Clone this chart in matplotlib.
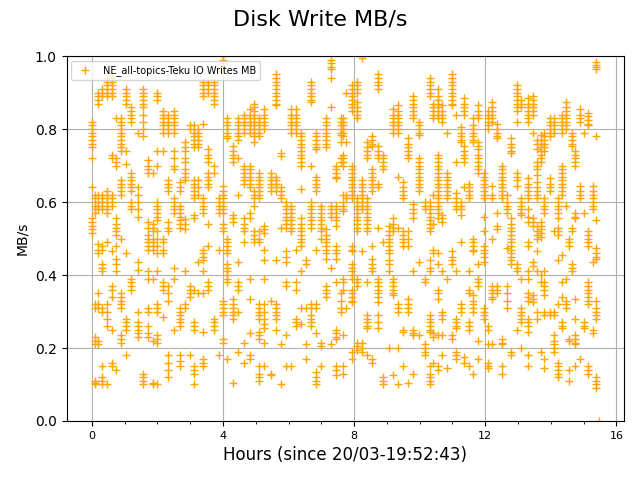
import numpy as np
import matplotlib
matplotlib.use("Agg")
import matplotlib.pyplot as plt
from matplotlib.ticker import MultipleLocator

title = "Disk Write MB/s"
series_label = "NE_all-topics-Teku IO Writes MB"
x_label = "Hours (since 20/03-19:52:43)"
y_label = "MB/s"

# sample times (hours) and the MB/s values read at each time
col_hours = [
    0.00, 0.08, 0.18, 0.30, 0.45, 0.60, 0.75, 0.90, 1.05, 1.20, 1.40, 1.55, 1.70, 1.85,
    2.00, 2.17, 2.33, 2.50, 2.68, 2.85, 2.98, 3.10, 3.25, 3.40, 3.55, 3.72, 3.87, 4.00,
    4.12, 4.30, 4.45, 4.65,
    4.81, 4.96, 5.11, 5.26, 5.45, 5.62, 5.77, 5.92, 6.08, 6.23, 6.39, 6.54, 6.69, 6.84,
    7.00, 7.15, 7.30, 7.45, 7.60,
    7.65, 7.75, 7.95, 8.10, 8.25, 8.40, 8.55, 8.72, 8.88, 9.05, 9.20, 9.35, 9.50, 9.65,
    9.80, 9.97, 10.15, 10.30, 10.42,
    10.55, 10.68, 10.82, 10.98, 11.10, 11.25, 11.35, 11.50, 11.62, 11.78, 11.95, 12.08,
    12.22, 12.35, 12.52, 12.65, 12.78, 12.98, 13.10,
    13.30, 13.45, 13.57, 13.70, 13.80, 13.98, 14.10, 14.22, 14.35, 14.45, 14.55, 14.66,
    14.75, 14.88, 15.00, 15.12, 15.28, 15.38, 15.46,
]
col_values = [
    [0.82, 0.81, 0.80, 0.79, 0.78, 0.77, 0.76, 0.75, 0.72, 0.64, 0.555, 0.545, 0.535, 0.525, 0.515],
    [0.62, 0.61, 0.60, 0.59, 0.58, 0.57, 0.32, 0.31, 0.23, 0.22, 0.21, 0.11, 0.10, 0.105],
    [0.90, 0.89, 0.88, 0.87, 0.62, 0.60, 0.59, 0.58, 0.485, 0.47, 0.46, 0.35, 0.32, 0.31, 0.22, 0.21],
    [0.91, 0.90, 0.89, 0.62, 0.61, 0.60, 0.59, 0.58, 0.43, 0.42, 0.41, 0.48, 0.47, 0.31, 0.30, 0.15, 0.12, 0.11, 0.10],
    [0.94, 0.93, 0.92, 0.91, 0.90, 0.89, 0.63, 0.62, 0.61, 0.60, 0.59, 0.58, 0.57, 0.49, 0.32, 0.30, 0.28, 0.26, 0.10],
    [0.94, 0.93, 0.92, 0.91, 0.90, 0.89, 0.73, 0.72, 0.62, 0.61, 0.60, 0.59, 0.465, 0.37, 0.36, 0.34, 0.25, 0.16, 0.15],
    [0.83, 0.72, 0.71, 0.70, 0.555, 0.54, 0.53, 0.52, 0.51, 0.48, 0.445, 0.43, 0.41, 0.14],
    [0.83, 0.82, 0.81, 0.80, 0.79, 0.78, 0.77, 0.76, 0.75, 0.74, 0.66, 0.65, 0.64, 0.63, 0.62, 0.50, 0.35, 0.34, 0.33, 0.32, 0.31, 0.235, 0.225, 0.215],
    [0.91, 0.90, 0.89, 0.88, 0.87, 0.74, 0.705, 0.46, 0.18, 0.28, 0.27, 0.26, 0.25],
    [0.86, 0.85, 0.84, 0.83, 0.82, 0.68, 0.67, 0.66, 0.65, 0.64, 0.63, 0.60, 0.59, 0.58, 0.39, 0.38, 0.37, 0.36],
    [0.79, 0.64, 0.62, 0.60, 0.58, 0.56, 0.435, 0.415, 0.27, 0.26, 0.25, 0.24, 0.23, 0.30],
    [0.91, 0.90, 0.89, 0.88, 0.87, 0.86, 0.84, 0.82, 0.80, 0.78, 0.13, 0.12, 0.11, 0.10],
    [0.545, 0.53, 0.51, 0.50, 0.49, 0.48, 0.47, 0.715, 0.70, 0.69, 0.68, 0.39, 0.41, 0.31, 0.30, 0.26, 0.24, 0.23],
    [0.54, 0.53, 0.52, 0.50, 0.49, 0.48, 0.47, 0.39, 0.22, 0.105, 0.10, 0.68],
    [0.90, 0.89, 0.88, 0.74, 0.70, 0.60, 0.59, 0.58, 0.57, 0.56, 0.55, 0.52, 0.50, 0.48, 0.46, 0.41, 0.32, 0.31, 0.30, 0.235, 0.225, 0.215, 0.10],
    [0.85, 0.84, 0.83, 0.82, 0.81, 0.80, 0.79, 0.74, 0.50, 0.49, 0.47, 0.46, 0.38, 0.37, 0.36, 0.285],
    [0.84, 0.83, 0.82, 0.81, 0.80, 0.79, 0.66, 0.65, 0.64, 0.63, 0.545, 0.53, 0.52, 0.37, 0.35, 0.33, 0.18, 0.16, 0.14, 0.12],
    [0.85, 0.84, 0.83, 0.82, 0.81, 0.80, 0.79, 0.74, 0.72, 0.70, 0.69, 0.61, 0.60, 0.59, 0.58, 0.57, 0.42, 0.39, 0.25],
    [0.59, 0.58, 0.57, 0.56, 0.55, 0.54, 0.53, 0.655, 0.64, 0.63, 0.31, 0.30, 0.29, 0.28, 0.27, 0.26, 0.18, 0.165, 0.15],
    [0.765, 0.75, 0.74, 0.72, 0.71, 0.69, 0.68, 0.67, 0.66, 0.554, 0.54, 0.527, 0.41, 0.32, 0.31],
    [0.37, 0.36, 0.35, 0.34, 0.18, 0.81, 0.80],
    [0.81, 0.80, 0.79, 0.78, 0.77, 0.76, 0.75, 0.66, 0.65, 0.64, 0.63, 0.62, 0.61, 0.565, 0.555, 0.36, 0.27, 0.26, 0.25, 0.15, 0.14, 0.13, 0.10],
    [0.80, 0.79, 0.78, 0.77, 0.76, 0.75, 0.66, 0.64, 0.62, 0.435, 0.35],
    [0.93, 0.92, 0.91, 0.90, 0.89, 0.61, 0.60, 0.59, 0.58, 0.57, 0.47, 0.46, 0.45, 0.44, 0.41, 0.35, 0.245, 0.17, 0.16, 0.15, 0.815],
    [0.93, 0.92, 0.91, 0.90, 0.745, 0.73, 0.72, 0.71, 0.68, 0.67, 0.66, 0.65, 0.64, 0.54, 0.48, 0.38, 0.37, 0.36],
    [0.93, 0.92, 0.91, 0.90, 0.89, 0.88, 0.87, 0.28, 0.27, 0.26, 0.25, 0.70, 0.68],
    [0.61, 0.60, 0.59, 0.58, 0.57, 0.47, 0.18],
    [1.0, 0.99, 0.98, 0.97, 0.96, 0.645, 0.63, 0.62, 0.61, 0.60, 0.59, 0.58, 0.57, 0.54, 0.53, 0.52, 0.33, 0.32, 0.31, 0.30, 0.29, 0.225, 0.215],
    [0.83, 0.82, 0.81, 0.80, 0.79, 0.78, 0.775, 0.50, 0.49, 0.48, 0.47, 0.46, 0.43, 0.42, 0.41, 0.40, 0.39, 0.38, 0.17],
    [0.755, 0.74, 0.73, 0.72, 0.71, 0.565, 0.555, 0.545, 0.335, 0.32, 0.31, 0.30, 0.29, 0.28, 0.105],
    [0.83, 0.82, 0.81, 0.80, 0.79, 0.78, 0.77, 0.72, 0.62, 0.435, 0.38, 0.37, 0.36, 0.19, 0.30],
    [0.84, 0.83, 0.82, 0.81, 0.80, 0.79, 0.70, 0.69, 0.68, 0.67, 0.66, 0.65, 0.555, 0.54, 0.53, 0.52, 0.49, 0.215, 0.16],
    [0.855, 0.84, 0.83, 0.82, 0.81, 0.80, 0.79, 0.70, 0.69, 0.68, 0.67, 0.66, 0.65, 0.64, 0.57, 0.555, 0.39, 0.335, 0.24, 0.18, 0.17],
    [0.87, 0.86, 0.85, 0.84, 0.83, 0.82, 0.81, 0.80, 0.79, 0.78, 0.765, 0.63, 0.62, 0.61, 0.59, 0.52, 0.51, 0.50, 0.49],
    [0.83, 0.82, 0.81, 0.80, 0.79, 0.78, 0.68, 0.67, 0.66, 0.65, 0.64, 0.63, 0.62, 0.61, 0.52, 0.50, 0.49, 0.32, 0.31, 0.30, 0.29, 0.28, 0.245, 0.235, 0.225, 0.15, 0.13, 0.12, 0.11],
    [0.855, 0.84, 0.83, 0.82, 0.81, 0.80, 0.535, 0.525, 0.515, 0.47, 0.44, 0.39, 0.32, 0.30, 0.28, 0.265, 0.255, 0.215, 0.15],
    [0.68, 0.67, 0.66, 0.65, 0.64, 0.63, 0.33, 0.13, 0.125],
    [0.95, 0.94, 0.93, 0.92, 0.91, 0.90, 0.89, 0.88, 0.87, 0.865, 0.67, 0.66, 0.65, 0.64, 0.63, 0.44, 0.32, 0.31, 0.30, 0.29, 0.28, 0.25],
    [0.735, 0.725, 0.64, 0.63, 0.62, 0.61, 0.53, 0.21, 0.10],
    [0.60, 0.59, 0.58, 0.57, 0.56, 0.55, 0.54, 0.53, 0.465, 0.45, 0.435, 0.38, 0.37, 0.235, 0.15],
    [0.855, 0.84, 0.83, 0.82, 0.81, 0.80, 0.79, 0.59, 0.58, 0.57, 0.56, 0.55, 0.54, 0.53, 0.52, 0.15],
    [0.855, 0.84, 0.83, 0.82, 0.81, 0.80, 0.79, 0.47, 0.38, 0.36, 0.28, 0.27, 0.26],
    [0.636, 0.555, 0.54, 0.53, 0.52, 0.51, 0.50, 0.49, 0.48, 0.79, 0.78, 0.77, 0.76, 0.75, 0.74, 0.73, 0.72, 0.71, 0.70, 0.41, 0.31, 0.265],
    [0.31, 0.21, 0.17, 0.44, 0.43],
    [0.93, 0.92, 0.91, 0.90, 0.89, 0.88, 0.875, 0.60, 0.59, 0.58, 0.57, 0.56, 0.55, 0.54, 0.53, 0.29, 0.28, 0.27, 0.26, 0.32, 0.31, 0.70],
    [0.67, 0.66, 0.65, 0.64, 0.63, 0.47, 0.32, 0.31, 0.24, 0.79, 0.78, 0.77, 0.76, 0.75, 0.745, 0.135, 0.12, 0.11, 0.10],
    [0.59, 0.58, 0.57, 0.56, 0.55, 0.54, 0.53, 0.52, 0.215, 0.205, 0.50, 0.15],
    [0.83, 0.82, 0.81, 0.80, 0.79, 0.78, 0.77, 0.76, 0.75, 0.37, 0.36, 0.35, 0.34, 0.525, 0.51, 0.50, 0.49, 0.48, 0.47, 0.46, 0.445],
    [0.99, 0.98, 0.97, 0.965, 0.94, 0.86, 0.59, 0.58, 0.57, 0.56, 0.42, 0.21],
    [0.70, 0.69, 0.68, 0.67, 0.665, 0.59, 0.58, 0.57, 0.56, 0.55, 0.535, 0.48, 0.47, 0.46, 0.445, 0.38, 0.25, 0.24, 0.23, 0.225, 0.15, 0.14, 0.125],
    [0.83, 0.82, 0.81, 0.80, 0.79, 0.785, 0.765, 0.72, 0.71, 0.35, 0.33, 0.31, 0.30],
    [0.83, 0.82, 0.81, 0.80, 0.79, 0.78, 0.73, 0.72, 0.71, 0.70, 0.60, 0.59, 0.58, 0.575, 0.39, 0.38, 0.36, 0.235, 0.15, 0.13, 0.62],
    [0.90, 0.62, 0.61, 0.31, 0.765],
    [0.92, 0.91, 0.90, 0.89, 0.88, 0.87, 0.86, 0.85, 0.70, 0.69, 0.68, 0.67, 0.66, 0.65, 0.64, 0.63, 0.62, 0.61, 0.48, 0.47, 0.465, 0.43, 0.42, 0.41, 0.40, 0.39, 0.36, 0.35, 0.34, 0.33, 0.325, 0.17, 0.19],
    [0.93, 0.92, 0.91, 0.90, 0.875, 0.86, 0.85, 0.84, 0.83, 0.61, 0.60, 0.59, 0.58, 0.57, 0.56, 0.55, 0.54, 0.53, 0.52, 0.39, 0.38, 0.37, 0.215, 0.205, 0.195],
    [0.66, 0.65, 0.64, 0.63, 0.62, 0.61, 0.60, 0.59, 0.58, 0.465, 0.215, 0.20, 0.19, 0.995],
    [0.61, 0.60, 0.59, 0.58, 0.57, 0.56, 0.55, 0.54, 0.53, 0.52, 0.765, 0.75, 0.74, 0.73, 0.72, 0.29, 0.28, 0.27, 0.26, 0.255, 0.38, 0.18],
    [0.78, 0.77, 0.76, 0.755, 0.67, 0.69, 0.68, 0.66, 0.65, 0.64, 0.63, 0.445, 0.43, 0.42, 0.41, 0.48, 0.17, 0.16],
    [0.95, 0.94, 0.93, 0.92, 0.91, 0.39, 0.38, 0.37, 0.36, 0.35, 0.34, 0.325, 0.53, 0.755, 0.74, 0.73, 0.72, 0.65, 0.64, 0.29, 0.27, 0.255],
    [0.73, 0.72, 0.71, 0.70, 0.69, 0.49, 0.12, 0.11, 0.10],
    [0.535, 0.52, 0.51, 0.50, 0.49, 0.48, 0.47, 0.46, 0.44, 0.43, 0.20, 0.41],
    [0.855, 0.84, 0.83, 0.82, 0.81, 0.80, 0.79, 0.39, 0.38, 0.37, 0.36, 0.35, 0.345, 0.555, 0.54, 0.53, 0.52, 0.125],
    [0.32, 0.31, 0.30, 0.67, 0.20, 0.865, 0.85, 0.84, 0.83, 0.82, 0.81, 0.80, 0.79, 0.53, 0.10],
    [0.655, 0.64, 0.63, 0.62, 0.61, 0.25, 0.245, 0.15, 0.52, 0.51, 0.50, 0.49, 0.48],
    [0.335, 0.32, 0.31, 0.30, 0.775, 0.76, 0.75, 0.74, 0.73, 0.72, 0.52, 0.50, 0.48, 0.105],
    [0.595, 0.58, 0.57, 0.555, 0.41, 0.25, 0.24, 0.235, 0.13, 0.89, 0.88, 0.87, 0.86, 0.85, 0.84, 0.83],
    [0.72, 0.71, 0.70, 0.69, 0.68, 0.67, 0.66, 0.65, 0.64, 0.63, 0.435, 0.235, 0.82, 0.81, 0.80, 0.79, 0.785],
    [0.60, 0.59, 0.58, 0.21, 0.20, 0.19, 0.18, 0.39, 0.38],
    [0.60, 0.59, 0.58, 0.57, 0.56, 0.55, 0.54, 0.53, 0.52, 0.29, 0.28, 0.27, 0.26, 0.25, 0.245, 0.15, 0.13, 0.12, 0.11, 0.10, 0.44, 0.42, 0.41, 0.94, 0.93, 0.92, 0.91, 0.90, 0.89],
    [0.62, 0.54, 0.47, 0.46, 0.24, 0.23, 0.16, 0.87, 0.86, 0.85, 0.84, 0.83],
    [0.89, 0.88, 0.87, 0.86, 0.85, 0.84, 0.83, 0.91, 0.73, 0.72, 0.71, 0.70, 0.69, 0.68, 0.67, 0.66, 0.65, 0.64, 0.63, 0.62, 0.61, 0.60, 0.59, 0.58, 0.57, 0.555, 0.46, 0.43, 0.36, 0.35, 0.335, 0.235, 0.15, 0.14],
    [0.565, 0.555, 0.545, 0.41, 0.30, 0.29, 0.28, 0.235, 0.18, 0.865, 0.85, 0.84, 0.83, 0.82],
    [0.79, 0.68, 0.67, 0.66, 0.65, 0.64, 0.63, 0.62, 0.61, 0.39, 0.145],
    [0.95, 0.94, 0.93, 0.92, 0.91, 0.90, 0.89, 0.88, 0.87, 0.865, 0.465, 0.45, 0.44, 0.43, 0.235, 0.225],
    [0.84, 0.71, 0.625, 0.61, 0.60, 0.59, 0.58, 0.28, 0.27, 0.26, 0.255, 0.19, 0.18, 0.17, 0.41],
    [0.60, 0.59, 0.58, 0.565, 0.49, 0.32, 0.31, 0.30, 0.805, 0.79, 0.78, 0.77, 0.765],
    [0.755, 0.74, 0.73, 0.72, 0.71, 0.64, 0.175, 0.16, 0.885, 0.87, 0.86, 0.85, 0.84],
    [0.65, 0.64, 0.63, 0.62, 0.61, 0.41, 0.36, 0.35, 0.27, 0.26, 0.25, 0.15],
    [0.50, 0.49, 0.48, 0.47, 0.465, 0.81, 0.80, 0.79, 0.78, 0.77, 0.765, 0.83, 0.345, 0.33, 0.32, 0.31, 0.30, 0.13],
    [0.755, 0.745, 0.73, 0.72, 0.71, 0.70, 0.69, 0.68, 0.43, 0.39, 0.38, 0.37, 0.865, 0.85, 0.84, 0.83, 0.22, 0.17, 0.765],
    [0.68, 0.67, 0.66, 0.65, 0.64, 0.63, 0.62, 0.61, 0.48, 0.47, 0.46, 0.45, 0.435, 0.31, 0.30, 0.29, 0.28, 0.56, 0.52],
    [0.85, 0.84, 0.83, 0.82, 0.81, 0.80, 0.21, 0.16, 0.15, 0.145, 0.26, 0.25],
    [0.875, 0.86, 0.85, 0.84, 0.83, 0.82, 0.50, 0.37, 0.36, 0.35, 0.34, 0.335, 0.62, 0.61, 0.645, 0.21],
    [0.57, 0.815, 0.80, 0.79, 0.78, 0.775, 0.37, 0.36, 0.35, 0.535, 0.525],
    [0.70, 0.69, 0.68, 0.67, 0.66, 0.65, 0.64, 0.63, 0.62, 0.61, 0.225, 0.215, 0.21, 0.15, 0.13],
    [0.62, 0.60, 0.59, 0.58, 0.57, 0.37, 0.35, 0.33, 0.31, 0.475],
    [0.775, 0.76, 0.75, 0.74, 0.735, 0.555, 0.54, 0.53, 0.52, 0.51, 0.50, 0.49, 0.48, 0.47, 0.46, 0.45, 0.44, 0.43, 0.19, 0.18],
    [0.92, 0.91, 0.90, 0.89, 0.88, 0.87, 0.86, 0.85, 0.82, 0.68, 0.67, 0.66, 0.645, 0.43, 0.42, 0.41, 0.25],
    [0.61, 0.60, 0.59, 0.58, 0.57, 0.565, 0.31, 0.30, 0.29, 0.28, 0.27, 0.20, 0.88, 0.87, 0.86, 0.39],
    [0.885, 0.87, 0.86, 0.85, 0.84, 0.83, 0.82, 0.665, 0.65, 0.64, 0.63, 0.62, 0.61, 0.58, 0.56, 0.545, 0.49, 0.48, 0.41, 0.39, 0.35, 0.34, 0.33, 0.28, 0.27, 0.26, 0.245, 0.18, 0.15],
    [0.89, 0.88, 0.87, 0.86, 0.85, 0.84, 0.79, 0.555, 0.545, 0.535, 0.435, 0.425, 0.345, 0.335, 0.325],
    [0.77, 0.76, 0.745, 0.71, 0.70, 0.69, 0.675, 0.655, 0.64, 0.63, 0.62, 0.61, 0.535, 0.52, 0.51, 0.50, 0.465, 0.41, 0.30, 0.28],
    [0.785, 0.77, 0.76, 0.75, 0.74, 0.73, 0.72, 0.71, 0.545, 0.535, 0.525, 0.515, 0.505, 0.40, 0.38, 0.19],
    [0.79, 0.78, 0.77, 0.76, 0.75, 0.74, 0.61, 0.60, 0.59, 0.58, 0.57, 0.38, 0.37, 0.36, 0.345, 0.41, 0.30, 0.29, 0.17, 0.145],
    [0.83, 0.82, 0.81, 0.80, 0.79, 0.78, 0.665, 0.65, 0.64, 0.63, 0.30, 0.29],
    [0.83, 0.82, 0.81, 0.80, 0.79, 0.52, 0.30, 0.29, 0.235, 0.22, 0.21, 0.20, 0.19],
    [0.61, 0.60, 0.59, 0.58, 0.57, 0.555, 0.53, 0.52, 0.51, 0.44, 0.32, 0.16, 0.15, 0.14, 0.13, 0.12],
    [0.84, 0.83, 0.82, 0.81, 0.80, 0.79, 0.70, 0.69, 0.68, 0.67, 0.66, 0.65, 0.64, 0.63, 0.62, 0.455, 0.38, 0.34, 0.27, 0.26, 0.255],
    [0.875, 0.86, 0.85, 0.84, 0.83, 0.82, 0.81, 0.80, 0.59, 0.39, 0.33, 0.32, 0.31],
    [0.50, 0.49, 0.48, 0.225, 0.22, 0.14, 0.11],
    [0.43, 0.42, 0.41, 0.53, 0.52, 0.79, 0.78, 0.77, 0.76, 0.755],
    [0.74, 0.73, 0.72, 0.71, 0.70, 0.57, 0.56, 0.555, 0.335, 0.28, 0.235, 0.225, 0.215, 0.21, 0.15],
    [0.645, 0.63, 0.62, 0.61, 0.855, 0.84, 0.83, 0.82, 0.17],
    [0.79, 0.57, 0.27, 0.26, 0.255],
    [0.845, 0.835, 0.825, 0.815, 0.81, 0.52, 0.51, 0.50, 0.49, 0.48, 0.38, 0.37, 0.36, 0.35, 0.34, 0.33, 0.32, 0.15, 0.14, 0.13],
    [0.645, 0.63, 0.62, 0.61, 0.60, 0.59, 0.58, 0.25, 0.24, 0.435],
    [0.985, 0.975, 0.97, 0.965, 0.475, 0.46, 0.45, 0.445, 0.55, 0.33, 0.31, 0.30, 0.29, 0.28, 0.12, 0.11, 0.10, 0.09, 0.78],
    [0.0],
]

hours = np.repeat(col_hours, [len(v) for v in col_values])
mbps = np.concatenate([np.asarray(v, dtype=float) for v in col_values])

fig, ax = plt.subplots(figsize=(6.4, 4.8), dpi=100)
ax.plot(hours, mbps, "+", color="orange", markersize=6, label=series_label)

ax.set_ylim(0, 1.0)
ax.set_xlim(-0.773, 16.233)
ax.xaxis.set_major_locator(MultipleLocator(4))
ax.xaxis.set_minor_locator(MultipleLocator(1))
ax.yaxis.set_major_locator(MultipleLocator(0.2))
ax.tick_params(axis="x", which="major", labelsize=8)
ax.grid(True, which="major", color="#b0b0b0", linewidth=0.8)
ax.set_axisbelow(True)

ax.set_xlabel(x_label, fontsize=12)
ax.set_ylabel(y_label, fontsize=10)
fig.suptitle(title, fontsize=16)
ax.legend(loc="upper left", fontsize=7)

fig.subplots_adjust(left=0.104, right=0.975, top=0.883, bottom=0.123)
fig.savefig("out.png", dpi=100)
